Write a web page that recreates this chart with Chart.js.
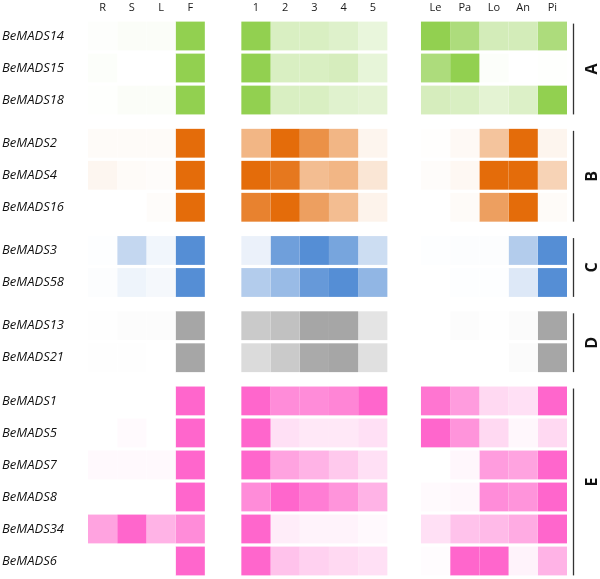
<!DOCTYPE html>
<html><head><meta charset="utf-8">
<script src="https://cdn.jsdelivr.net/npm/chart.js@4/dist/chart.umd.min.js"></script>
<style>html,body{margin:0;padding:0;background:#fff}#wrap{width:600px;height:579px;position:relative}</style>
</head><body><div id="wrap"><canvas id="c"></canvas></div>
<script>
const genes = ['BeMADS14','BeMADS15','BeMADS18','BeMADS2','BeMADS4','BeMADS16','BeMADS3','BeMADS58','BeMADS13','BeMADS21','BeMADS1','BeMADS5','BeMADS7','BeMADS8','BeMADS34','BeMADS6'];
const geneClass = ['A','A','A','B','B','B','C','C','D','D','E','E','E','E','E','E'];
const classes = ['A','B','C','D','E'];
const classColors = ['#92D050','#E46C0A','#558ED5','#A6A6A6','#FF66CC'];
const tissues = ['R','S','L','F'];
const stages = ['1','2','3','4','5'];
const organs = ['Le','Pa','Lo','An','Pi'];
// relative expression (0 = white, 1 = full class colour)
const tissueExpr = [
  [0.02,0.04,0.04,1],
  [0.03,0,0,1],
  [0.01,0.04,0.04,1],
  [0.03,0.03,0.03,1],
  [0.06,0.03,0.02,1],
  [0,0,0.02,1],
  [0.01,0.35,0.08,1],
  [0.02,0.1,0.06,1],
  [0.01,0.03,0.03,1],
  [0.01,0.01,0,1],
  [0,0,0,1],
  [0,0.03,0,1],
  [0.04,0.04,0.04,1],
  [0,0,0,1],
  [0.6,1,0.5,0.75],
  [0,0,0,1]
];
const stageExpr = [
  [1,0.35,0.35,0.3,0.2],
  [1,0.35,0.35,0.38,0.22],
  [1,0.35,0.35,0.28,0.25],
  [0.5,1,0.75,0.5,0.07],
  [1,0.92,0.45,0.5,0.17],
  [0.85,1,0.65,0.45,0.08],
  [0.12,0.85,1,0.8,0.3],
  [0.45,0.6,0.9,1,0.65],
  [0.6,0.7,1,1,0.3],
  [0.4,0.6,0.95,1,0.35],
  [1,0.75,0.75,0.8,1],
  [1,0.2,0.15,0.15,0.2],
  [1,0.6,0.5,0.35,0.2],
  [0.75,1,0.85,0.7,0.5],
  [1,0.12,0.08,0.08,0.04],
  [1,0.4,0.3,0.25,0.2]
];
const organExpr = [
  [1,0.75,0.4,0.4,0.75],
  [0.75,1,0.03,0,0.01],
  [0.38,0.35,0.25,0.32,1],
  [0.01,0.04,0.4,1,0.07],
  [0.02,0.05,1,1,0.3],
  [0,0.03,0.65,1,0.03],
  [0.01,0.02,0.02,0.45,1],
  [0,0.01,0.01,0.2,1],
  [0,0.03,0.01,0.04,1],
  [0,0,0,0.05,1],
  [0.9,0.65,0.25,0.2,1],
  [1,0.7,0.25,0.05,0.25],
  [0,0.05,0.65,0.6,1],
  [0.03,0.05,0.75,0.7,1],
  [0.2,0.4,0.45,0.55,1],
  [0.02,1,1,0.08,0.5]
];

// ---- layout (derived) ----
const ROW_GAP = 0.35;
const COL_GAPS = [1.25, 1.15];
const rowPos = [];
genes.forEach((g, i) => {
  if (i === 0) rowPos.push(0);
  else rowPos.push(rowPos[i - 1] + 1 + (geneClass[i] !== geneClass[i - 1] ? ROW_GAP : 0));
});
const blocks = [
  {labels: tissues, values: tissueExpr},
  {labels: stages, values: stageExpr},
  {labels: organs, values: organExpr}
];
let start = 0;
blocks.forEach((b, k) => { b.start = start; start += b.labels.length + (COL_GAPS[k] || 0); });
const xMax = blocks[2].start + blocks[2].labels.length;

function mix(hex, v) {
  const r = parseInt(hex.slice(1,3),16), g = parseInt(hex.slice(3,5),16), b = parseInt(hex.slice(5,7),16);
  const f = c => Math.round(255 + (c - 255) * v);
  return `rgb(${f(r)},${f(g)},${f(b)})`;
}

const headerLabels = [], headerPos = [];
const datasets = [];
blocks.forEach(b => {
  b.labels.forEach((lab, j) => {
    headerLabels.push(lab);
    headerPos.push(b.start + j + 0.5);
    datasets.push({
      label: lab,
      data: genes.map((g, i) => ({x: [b.start + j, b.start + j + 1], y: rowPos[i]})),
      backgroundColor: genes.map((g, i) => mix(classColors[classes.indexOf(geneClass[i])], b.values[i][j])),
      borderWidth: 0,
      grouped: false,
      barPercentage: 0.9,
      categoryPercentage: 1
    });
  });
});

const bracketPlugin = {
  id: 'brackets',
  afterDraw(chart) {
    const ctx = chart.ctx, area = chart.chartArea;
    const meta = chart.getDatasetMeta(0);
    classes.forEach(cl => {
      const idx = geneClass.map((c, i) => c === cl ? i : -1).filter(i => i >= 0);
      const first = meta.data[idx[0]], last = meta.data[idx[idx.length - 1]];
      const top = first.y - first.height / 2 + 2;
      const bot = last.y + last.height / 2;
      const lx = area.right + 6.5;
      ctx.save();
      ctx.strokeStyle = '#333';
      ctx.lineWidth = 1.3;
      ctx.beginPath(); ctx.moveTo(lx, top); ctx.lineTo(lx, bot); ctx.stroke();
      ctx.translate(area.right + 25, (top + bot) / 2);
      ctx.rotate(-Math.PI / 2);
      ctx.fillStyle = '#111';
      ctx.font = 'bold 16px "Open Sans"';
      ctx.textAlign = 'center';
      ctx.textBaseline = 'middle';
      ctx.fillText(cl, 0, 0);
      ctx.restore();
    });
  }
};

new Chart(document.getElementById('c'), {
  type: 'bar',
  data: {datasets},
  options: {
    indexAxis: 'y',
    responsive: true,
    maintainAspectRatio: false,
    animation: false,
    layout: {padding: {left: 2, right: 33, top: 0, bottom: 2}},
    plugins: {legend: {display: false}, tooltip: {enabled: false}},
    scales: {
      x: {
        type: 'linear', position: 'top', min: 0, max: xMax, offset: false,
        grid: {display: false, drawTicks: false}, border: {display: false},
        afterBuildTicks: s => { s.ticks = headerPos.map(v => ({value: v})); },
        afterFit: s => { s.height = 20; },
        ticks: {autoSkip: false, maxRotation: 0, padding: 6, color: '#1a1a1a',
          font: {family: '"Open Sans"', size: 11},
          callback: (v, i) => headerLabels[i]}
      },
      y: {
        type: 'linear', reverse: true, offset: false,
        min: -0.5, max: rowPos[rowPos.length - 1] + 0.5,
        grid: {display: false, drawTicks: false}, border: {display: false},
        afterBuildTicks: s => { s.ticks = rowPos.map(v => ({value: v})); },
        afterFit: s => { s.width = 86; s.paddingTop = 0; s.paddingBottom = 0; },
        ticks: {autoSkip: false, crossAlign: 'far', color: '#111',
          font: {family: '"Open Sans"', size: 13, style: 'italic'},
          callback: (v, i) => genes[i]}
      }
    }
  },
  plugins: [bracketPlugin]
});
</script></body></html>
